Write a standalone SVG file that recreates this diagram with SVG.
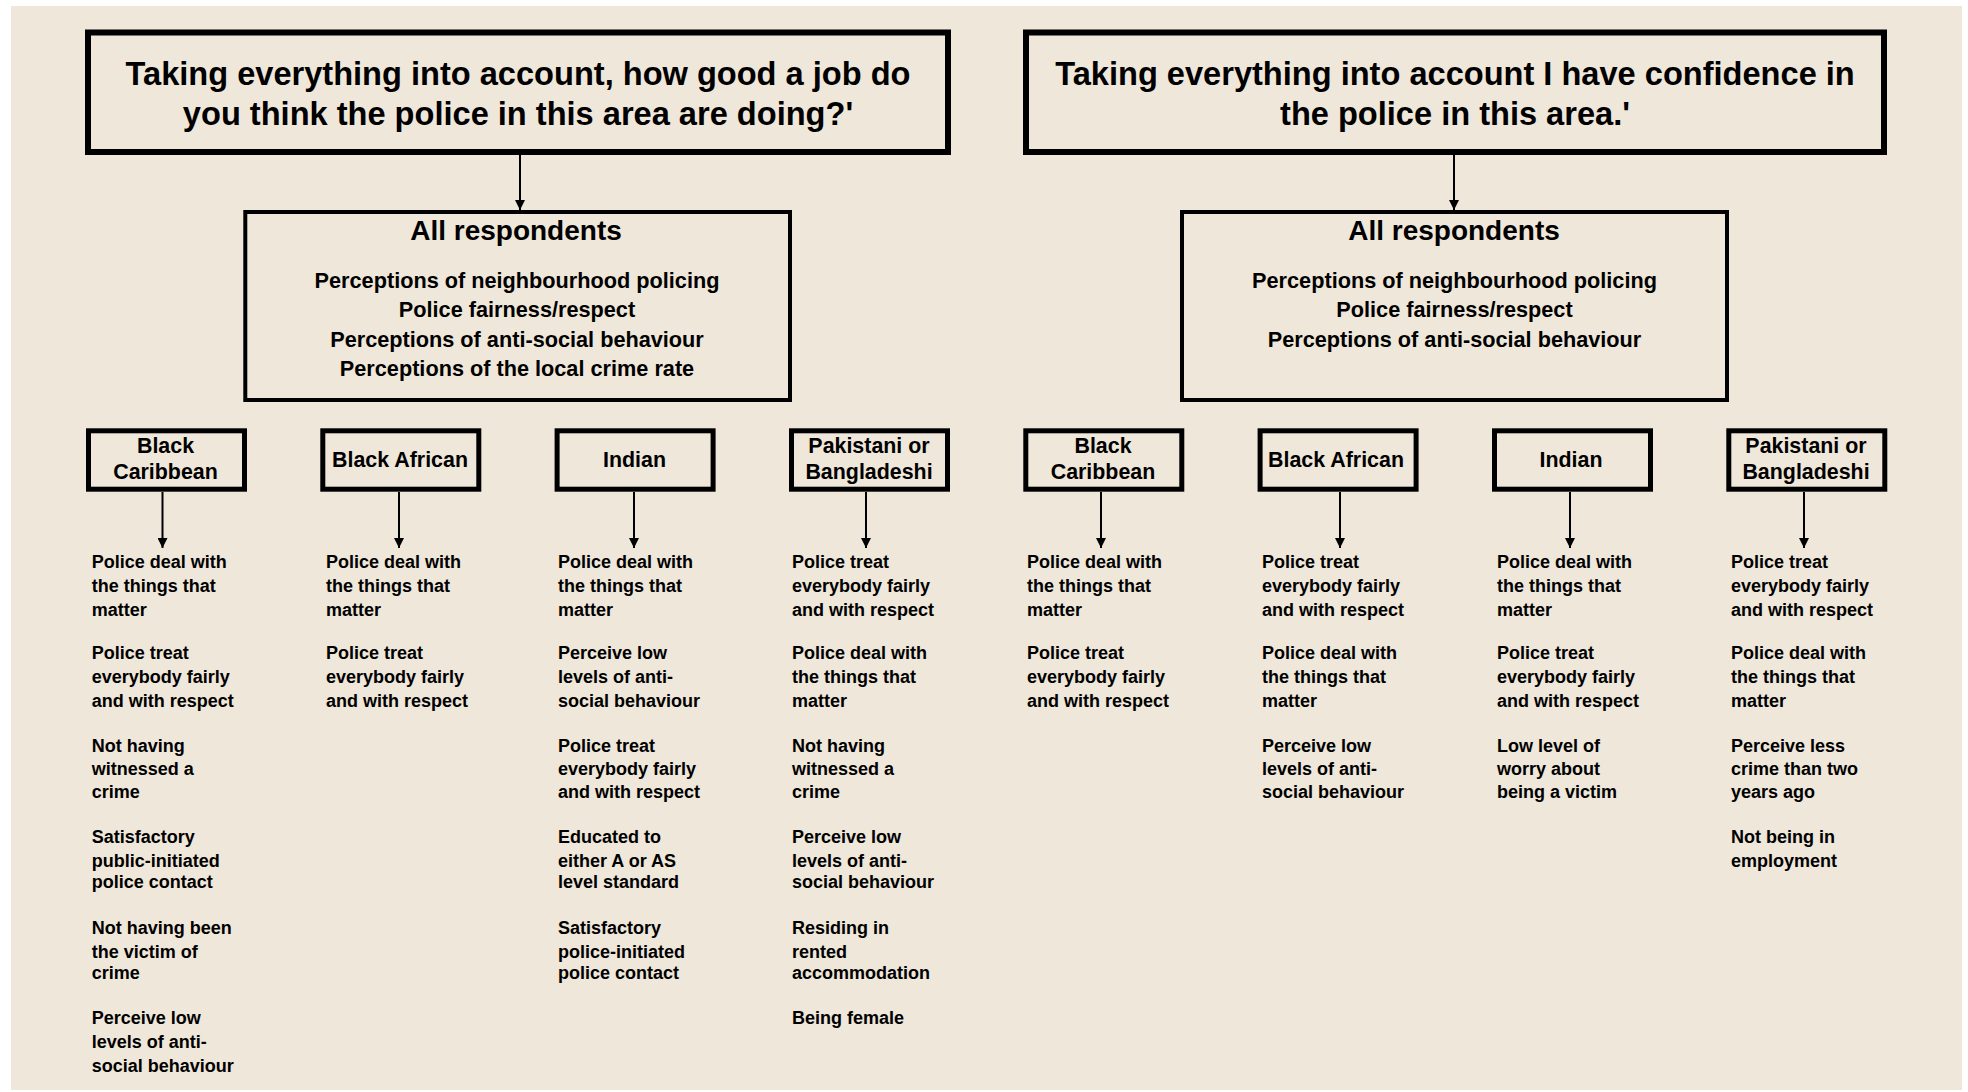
<svg xmlns="http://www.w3.org/2000/svg" width="1968" height="1092" viewBox="0 0 1968 1092">
<defs>
<marker id="ah" markerUnits="userSpaceOnUse" markerWidth="10" markerHeight="10" refX="10" refY="5" orient="auto">
<path d="M0,0 L10,5 L0,10 z" fill="#000"/>
</marker>
<style>
text{font-family:"Liberation Sans",Arial,sans-serif;font-weight:bold;fill:#000}
.q{font-size:32.6px;text-anchor:middle}
.qbox{fill:none;stroke:#000;stroke-width:6}
.abox{fill:none;stroke:#000;stroke-width:4}
.ebox{fill:none;stroke:#000;stroke-width:5}
.ah{font-size:28px;text-anchor:middle}
.af{font-size:21.7px;text-anchor:middle}
.el{font-size:21.4px;text-anchor:middle}
.it{font-size:18px}
.con line{stroke:#000;stroke-width:2;marker-end:url(#ah)}
</style>
</defs>
<rect x="0" y="0" width="1968" height="1092" fill="#fff"/>
<rect x="11" y="6" width="1951" height="1084" fill="#EFE7D9"/>

<g id="q-job">
<rect class="qbox" x="88" y="32.5" width="860" height="119.5"/>
<text class="q" x="518" y="85">Taking everything into account, how good a job do</text>
<text class="q" x="518" y="125">you think the police in this area are doing?'</text>
</g>
<g id="q-conf">
<rect class="qbox" x="1026" y="32.5" width="858" height="119.5"/>
<text class="q" x="1455" y="85">Taking everything into account I have confidence in</text>
<text class="q" x="1455" y="125">the police in this area.'</text>
</g>

<g id="all-job">
<rect class="abox" x="245.3" y="212" width="544.7" height="188"/>
<text class="ah" x="516" y="240">All respondents</text>
<text class="af" x="517" y="288.3">Perceptions of neighbourhood policing</text>
<text class="af" x="517" y="317.3">Police fairness/respect</text>
<text class="af" x="517" y="346.7">Perceptions of anti-social behaviour</text>
<text class="af" x="517" y="375.7">Perceptions of the local crime rate</text>
</g>
<g id="all-conf">
<rect class="abox" x="1182" y="212" width="545" height="188"/>
<text class="ah" x="1454" y="240">All respondents</text>
<text class="af" x="1454.5" y="288.3">Perceptions of neighbourhood policing</text>
<text class="af" x="1454.5" y="317.3">Police fairness/respect</text>
<text class="af" x="1454.5" y="346.7">Perceptions of anti-social behaviour</text>
</g>

<g id="job-bc">
<rect class="ebox" x="88.5" y="430.8" width="156" height="58.4"/>
<text class="el" x="165.5" y="452.7">Black</text>
<text class="el" x="165.5" y="479.3">Caribbean</text>
</g>
<g id="job-ba">
<rect class="ebox" x="322.8" y="430.8" width="156" height="58.4"/>
<text class="el" x="400" y="467">Black African</text>
</g>
<g id="job-in">
<rect class="ebox" x="557.1" y="430.8" width="156" height="58.4"/>
<text class="el" x="634.5" y="467">Indian</text>
</g>
<g id="job-pb">
<rect class="ebox" x="791.5" y="430.8" width="156" height="58.4"/>
<text class="el" x="869" y="452.7">Pakistani or</text>
<text class="el" x="869" y="479.3">Bangladeshi</text>
</g>
<g id="conf-bc">
<rect class="ebox" x="1025.8" y="430.8" width="156" height="58.4"/>
<text class="el" x="1103" y="452.7">Black</text>
<text class="el" x="1103" y="479.3">Caribbean</text>
</g>
<g id="conf-ba">
<rect class="ebox" x="1260.1" y="430.8" width="156" height="58.4"/>
<text class="el" x="1336" y="467">Black African</text>
</g>
<g id="conf-in">
<rect class="ebox" x="1494.5" y="430.8" width="156" height="58.4"/>
<text class="el" x="1571" y="467">Indian</text>
</g>
<g id="conf-pb">
<rect class="ebox" x="1728.8" y="430.8" width="156" height="58.4"/>
<text class="el" x="1806" y="452.7">Pakistani or</text>
<text class="el" x="1806" y="479.3">Bangladeshi</text>
</g>

<g id="list-job-bc" class="it">
<text x="91.7"><tspan x="91.7" y="568">Police deal with</tspan><tspan x="91.7" y="592">the things that</tspan><tspan x="91.7" y="616">matter</tspan></text>
<text x="91.7"><tspan x="91.7" y="659">Police treat</tspan><tspan x="91.7" y="683">everybody fairly</tspan><tspan x="91.7" y="707">and with respect</tspan></text>
<text x="91.7"><tspan x="91.7" y="752">Not having</tspan><tspan x="91.7" y="775">witnessed a</tspan><tspan x="91.7" y="798">crime</tspan></text>
<text x="91.7"><tspan x="91.7" y="843">Satisfactory</tspan><tspan x="91.7" y="867">public-initiated</tspan><tspan x="91.7" y="888">police contact</tspan></text>
<text x="91.7"><tspan x="91.7" y="934">Not having been</tspan><tspan x="91.7" y="958">the victim of</tspan><tspan x="91.7" y="979">crime</tspan></text>
<text x="91.7"><tspan x="91.7" y="1024">Perceive low</tspan><tspan x="91.7" y="1048">levels of anti-</tspan><tspan x="91.7" y="1072">social behaviour</tspan></text>
</g>
<g id="list-job-ba" class="it">
<text x="326"><tspan x="326" y="568">Police deal with</tspan><tspan x="326" y="592">the things that</tspan><tspan x="326" y="616">matter</tspan></text>
<text x="326"><tspan x="326" y="659">Police treat</tspan><tspan x="326" y="683">everybody fairly</tspan><tspan x="326" y="707">and with respect</tspan></text>
</g>
<g id="list-job-in" class="it">
<text x="558"><tspan x="558" y="568">Police deal with</tspan><tspan x="558" y="592">the things that</tspan><tspan x="558" y="616">matter</tspan></text>
<text x="558"><tspan x="558" y="659">Perceive low</tspan><tspan x="558" y="683">levels of anti-</tspan><tspan x="558" y="707">social behaviour</tspan></text>
<text x="558"><tspan x="558" y="752">Police treat</tspan><tspan x="558" y="775">everybody fairly</tspan><tspan x="558" y="798">and with respect</tspan></text>
<text x="558"><tspan x="558" y="843">Educated to</tspan><tspan x="558" y="867">either A or AS</tspan><tspan x="558" y="888">level standard</tspan></text>
<text x="558"><tspan x="558" y="934">Satisfactory</tspan><tspan x="558" y="958">police-initiated</tspan><tspan x="558" y="979">police contact</tspan></text>
</g>
<g id="list-job-pb" class="it">
<text x="792"><tspan x="792" y="568">Police treat</tspan><tspan x="792" y="592">everybody fairly</tspan><tspan x="792" y="616">and with respect</tspan></text>
<text x="792"><tspan x="792" y="659">Police deal with</tspan><tspan x="792" y="683">the things that</tspan><tspan x="792" y="707">matter</tspan></text>
<text x="792"><tspan x="792" y="752">Not having</tspan><tspan x="792" y="775">witnessed a</tspan><tspan x="792" y="798">crime</tspan></text>
<text x="792"><tspan x="792" y="843">Perceive low</tspan><tspan x="792" y="867">levels of anti-</tspan><tspan x="792" y="888">social behaviour</tspan></text>
<text x="792"><tspan x="792" y="934">Residing in</tspan><tspan x="792" y="958">rented</tspan><tspan x="792" y="979">accommodation</tspan></text>
<text x="792" y="1024">Being female</text>
</g>
<g id="list-conf-bc" class="it">
<text x="1027"><tspan x="1027" y="568">Police deal with</tspan><tspan x="1027" y="592">the things that</tspan><tspan x="1027" y="616">matter</tspan></text>
<text x="1027"><tspan x="1027" y="659">Police treat</tspan><tspan x="1027" y="683">everybody fairly</tspan><tspan x="1027" y="707">and with respect</tspan></text>
</g>
<g id="list-conf-ba" class="it">
<text x="1262"><tspan x="1262" y="568">Police treat</tspan><tspan x="1262" y="592">everybody fairly</tspan><tspan x="1262" y="616">and with respect</tspan></text>
<text x="1262"><tspan x="1262" y="659">Police deal with</tspan><tspan x="1262" y="683">the things that</tspan><tspan x="1262" y="707">matter</tspan></text>
<text x="1262"><tspan x="1262" y="752">Perceive low</tspan><tspan x="1262" y="775">levels of anti-</tspan><tspan x="1262" y="798">social behaviour</tspan></text>
</g>
<g id="list-conf-in" class="it">
<text x="1497"><tspan x="1497" y="568">Police deal with</tspan><tspan x="1497" y="592">the things that</tspan><tspan x="1497" y="616">matter</tspan></text>
<text x="1497"><tspan x="1497" y="659">Police treat</tspan><tspan x="1497" y="683">everybody fairly</tspan><tspan x="1497" y="707">and with respect</tspan></text>
<text x="1497"><tspan x="1497" y="752">Low level of</tspan><tspan x="1497" y="775">worry about</tspan><tspan x="1497" y="798">being a victim</tspan></text>
</g>
<g id="list-conf-pb" class="it">
<text x="1731"><tspan x="1731" y="568">Police treat</tspan><tspan x="1731" y="592">everybody fairly</tspan><tspan x="1731" y="616">and with respect</tspan></text>
<text x="1731"><tspan x="1731" y="659">Police deal with</tspan><tspan x="1731" y="683">the things that</tspan><tspan x="1731" y="707">matter</tspan></text>
<text x="1731"><tspan x="1731" y="752">Perceive less</tspan><tspan x="1731" y="775">crime than two</tspan><tspan x="1731" y="798">years ago</tspan></text>
<text x="1731"><tspan x="1731" y="843">Not being in</tspan><tspan x="1731" y="867">employment</tspan></text>
</g>

<g id="connectors" class="con">
<line x1="520" y1="155" x2="520" y2="210"/>
<line x1="1454" y1="155" x2="1454" y2="210"/>
<line x1="162.5" y1="492" x2="162.5" y2="548"/>
<line x1="399" y1="492" x2="399" y2="548"/>
<line x1="634" y1="492" x2="634" y2="548"/>
<line x1="866" y1="492" x2="866" y2="548"/>
<line x1="1101" y1="492" x2="1101" y2="548"/>
<line x1="1340" y1="492" x2="1340" y2="548"/>
<line x1="1570" y1="492" x2="1570" y2="548"/>
<line x1="1804" y1="492" x2="1804" y2="548"/>
</g>
</svg>
